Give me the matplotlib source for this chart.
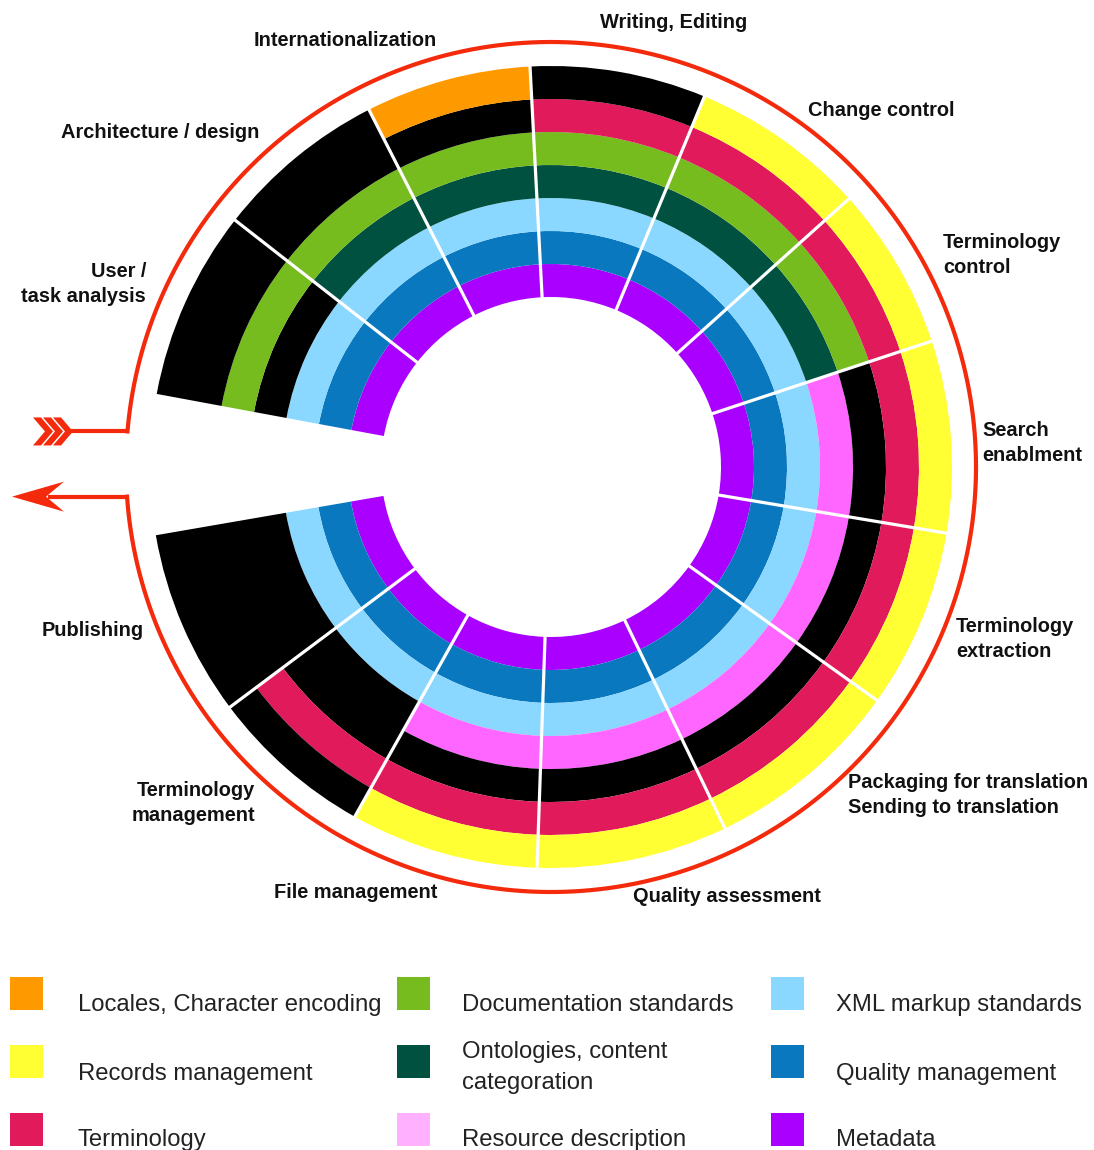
import matplotlib
matplotlib.use("Agg")
import matplotlib.pyplot as plt
import numpy as np
from matplotlib import font_manager
from matplotlib.patches import Rectangle, Polygon

# ---------------- data ----------------
categories = ["User /\ntask analysis", "Architecture / design", "Internationalization",
              "Writing, Editing", "Change control", "Terminology\ncontrol",
              "Search\nenablment", "Terminology\nextraction",
              "Packaging for translation\nSending to translation", "Quality assessment",
              "File management", "Terminology\nmanagement", "Publishing"]
# angular size of each sector (degrees), clockwise from the upper edge of the gap
sector_span_deg = [27.5, 25.0, 24.0, 25.5, 25.5, 23.7, 27.8, 26.1, 28.7, 27.7, 27.3, 23.9, 27.0]
# layers per sector, inner -> outer ring
ring_layers = [
    "MQXKDKK",  # User / task analysis
    "MQXODKK",  # Architecture / design
    "MQXODKL",  # Internationalization
    "MQXODTK",  # Writing, Editing
    "MQXODTY",  # Change control
    "MQXODTY",  # Terminology control
    "MQXRKTY",  # Search enablment
    "MQXRKTY",  # Terminology extraction
    "MQXRKTY",  # Packaging / Sending
    "MQXRKTY",  # Quality assessment
    "MQXRKTY",  # File management
    "MQXKKTK",  # Terminology management
    "MQXKKKK",  # Publishing
]
legend_keys = ["L", "Y", "T", "D", "O", "R", "X", "Q", "M"]
legend_labels = ["Locales, Character encoding", "Records management", "Terminology",
                 "Documentation standards", "Ontologies, content\ncategoration",
                 "Resource description", "XML markup standards", "Quality management",
                 "Metadata"]

layer_colors = {"L": "#FF9900", "Y": "#FFFF33", "T": "#E01A5B", "D": "#77BC1F",
                "O": "#00513F", "R": "#FF66FF", "X": "#8AD8FF", "Q": "#0A78BE",
                "M": "#AA00FF", "K": "#000000"}
swatch_colors = dict(layer_colors, R="#FFB0FF")
RED = "#F42A0C"

# ---------------- fonts ----------------
names = {f.name for f in font_manager.fontManager.ttflist}
if "Liberation Sans Narrow" in names:
    FONT, LBL, LEG = "Liberation Sans Narrow", 17.5, 21.0
else:
    FONT, LBL, LEG = "Liberation Sans", 14.4, 17.2

W, H = 1094, 1150
fig = plt.figure(figsize=(W / 100, H / 100), dpi=100)

# ---------------- polar ring chart ----------------
CX, CY = 551, 467
RMAX = 430
R_IN, RING_W = 170, 33
R_RED = 425
axp = fig.add_axes([(CX - RMAX) / W, (H - CY - RMAX) / H, 2 * RMAX / W, 2 * RMAX / H],
                   projection="polar")
axp.set_ylim(0, RMAX)
axp.set_axis_off()

START = 169.5
edges = START - np.concatenate([[0], np.cumsum(sector_span_deg)])
for i, layers in enumerate(ring_layers):
    t0, t1 = edges[i], edges[i + 1]
    j = 0
    while j < len(layers):
        k = j
        while k + 1 < len(layers) and layers[k + 1] == layers[j]:
            k += 1
        axp.bar(np.radians((t0 + t1) / 2), (k - j + 1) * RING_W,
                width=np.radians(t0 - t1), bottom=R_IN + j * RING_W,
                color=layer_colors[layers[j]], linewidth=0, align="center")
        j = k + 1

for e in edges[1:-1]:
    axp.plot([np.radians(e)] * 2, [R_IN - 1, R_IN + 7 * RING_W + 1], color="white",
             lw=2.3, solid_capstyle="butt")

A_UP, A_LO = 175.2, 184.0
th = np.radians(np.linspace(A_LO, 360 + A_UP, 600))
axp.plot(th, np.full_like(th, R_RED), color=RED, lw=3.0)

# ---------------- overlay (pixel coords) ----------------
ax = fig.add_axes([0, 0, 1, 1])
ax.set_xlim(0, W)
ax.set_ylim(H, 0)
ax.axis("off")

xu = CX + R_RED * np.cos(np.radians(A_UP)); yu = CY - R_RED * np.sin(np.radians(A_UP))
xl = CX + R_RED * np.cos(np.radians(A_LO)); yl = CY - R_RED * np.sin(np.radians(A_LO))
ax.plot([xu, 68], [yu, yu], color=RED, lw=3.0, solid_capstyle="butt")
ax.plot([xl, 48], [yl, yl], color=RED, lw=3.0, solid_capstyle="butt")
for x0 in (33, 43, 53):
    ax.add_patch(Polygon([(x0, yu - 14), (x0 + 8, yu - 14), (x0 + 20, yu),
                          (x0 + 8, yu + 14), (x0, yu + 14), (x0 + 12, yu)],
                         closed=True, facecolor=RED, edgecolor="none"))
ax.add_patch(Polygon([(12, yl), (64, yl - 15), (46, yl), (64, yl + 15)],
                     closed=True, facecolor=RED, edgecolor="none"))

# sector labels
label_pos = [(146, 284, "right"), (160, 133, "center"), (345, 40, "center"),
             (674, 22, "center"), (881, 111, "center"), (943, 255, "left"),
             (982, 443, "left"), (956, 639, "left"), (848, 795, "left"),
             (727, 897, "center"), (356, 893, "center"), (255, 803, "right"),
             (93, 631, "center")]
for txt, (x, y, ha) in zip(categories, label_pos):
    ax.text(x, y, txt, ha=ha, va="center", multialignment=ha, fontsize=LBL,
            fontweight="bold", family=FONT, color="#111111", linespacing=1.4)

# legend
col_sw = [10, 397, 771]
col_tx = [78, 462, 836]
row_sw = [977, 1045, 1113]
row_base = [1011, 1080, 1146]
for n, (key, lab) in enumerate(zip(legend_keys, legend_labels)):
    c, r = n // 3, n % 3
    ax.add_patch(Rectangle((col_sw[c], row_sw[r]), 33, 33,
                           facecolor=swatch_colors[key], edgecolor="none"))
    lines = lab.split("\n")
    if len(lines) == 1:
        ax.text(col_tx[c], row_base[r], lab, ha="left", va="baseline",
                fontsize=LEG, family=FONT, color="#222222")
    else:
        for m, ln in enumerate(lines):
            ax.text(col_tx[c], row_base[r] - 22 + 31 * m, ln, ha="left", va="baseline",
                    fontsize=LEG, family=FONT, color="#222222")

fig.savefig("out.png", dpi=100)
